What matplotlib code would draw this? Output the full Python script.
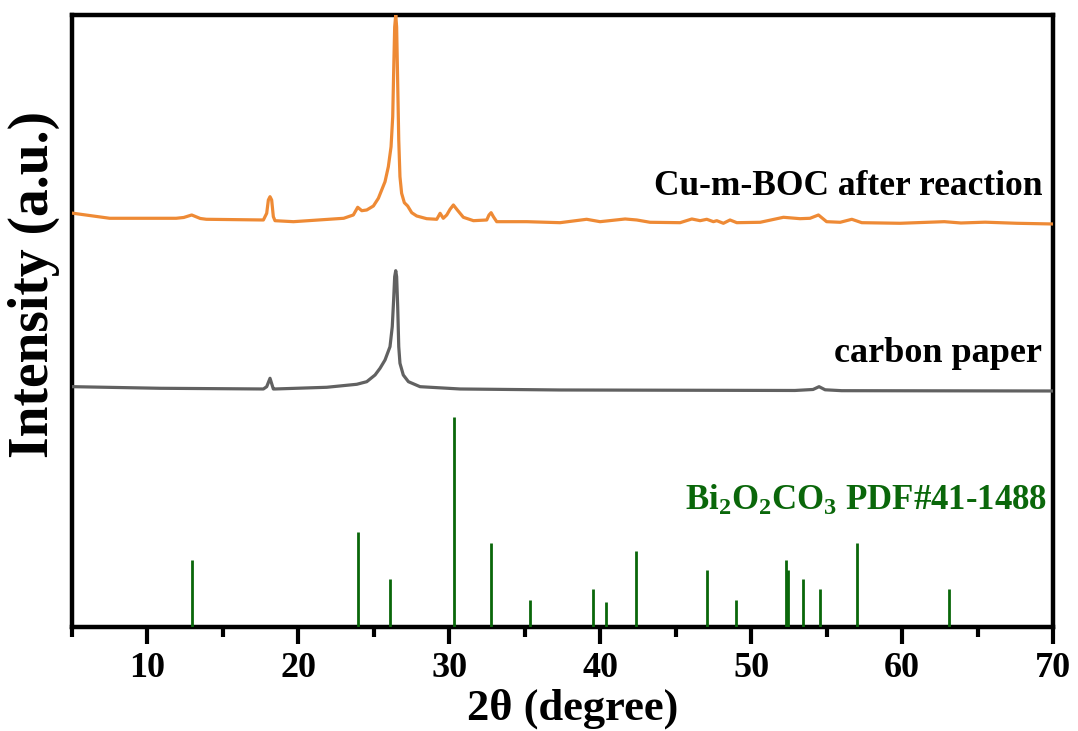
import matplotlib
matplotlib.use("Agg")
import matplotlib.pyplot as plt
from matplotlib.ticker import MultipleLocator

plt.rcParams['font.family'] = ['Liberation Serif', 'DejaVu Serif']
plt.rcParams['font.weight'] = 'bold'
plt.rcParams['mathtext.fontset'] = 'custom'
plt.rcParams['mathtext.rm'] = 'Liberation Serif:bold'
plt.rcParams['mathtext.bf'] = 'Liberation Serif:bold'
plt.rcParams['mathtext.it'] = 'Liberation Serif:bold:italic'

# ---------------- data (intensity in arbitrary units) ----------------
cu_theta = [5.09, 7.5, 11.9, 12.4, 12.93, 13.5, 13.9, 17.68, 17.9, 18.01, 18.12, 18.23,
            18.34, 18.45, 19.67, 23.0, 23.64, 23.93, 24.2, 24.53, 24.97, 25.3, 25.52,
            25.74, 25.96, 26.14, 26.25, 26.32, 26.38, 26.45, 26.51, 26.58, 26.65, 26.73,
            26.84, 27.02, 27.24, 27.51, 27.84, 28.5, 29.17, 29.39, 29.6, 29.83, 30.05,
            30.27, 30.53, 30.93, 31.6, 32.48, 32.63, 32.77, 32.92, 33.14, 35.13, 37.34,
            39.1, 39.99, 41.65, 42.42, 43.3, 45.29, 46.07, 46.62, 47.06, 47.5, 47.72,
            48.16, 48.6, 49.05, 50.6, 52.14, 53.24, 53.9, 54.46, 55.0, 55.9, 56.67,
            57.33, 59.87, 62.8, 63.9, 65.5, 67.6, 70.0]
cu_int = [413.7, 408.7, 408.7, 409.5, 412.0, 408.5, 407.7, 407.0, 413.7, 427.0, 430.3, 427.0,
          410.3, 406.3, 405.3, 408.7, 412.0, 419.7, 416.3, 417.0, 421.0, 428.7, 437.0,
          445.3, 460.3, 480.3, 510.3, 560.3, 600.0, 612.0, 600.0, 543.7, 487.0, 450.3,
          433.7, 424.3, 421.0, 414.3, 411.0, 408.3, 407.7, 413.7, 408.7, 412.0, 417.7,
          422.0, 417.0, 409.7, 406.3, 407.0, 412.0, 414.3, 410.3, 405.3, 405.3, 404.3,
          407.7, 405.3, 408.0, 407.0, 404.7, 404.3, 408.0, 406.3, 407.7, 405.3, 406.3,
          403.7, 407.0, 404.3, 404.7, 409.7, 408.3, 408.7, 412.0, 405.3, 404.7, 407.7,
          404.3, 403.7, 405.3, 404.0, 404.8, 403.7, 403.0]

cp_theta = [5.09, 10.83, 17.68, 17.9, 18.12, 18.34, 18.45, 21.88, 23.87, 24.53, 25.08,
            25.41, 25.74, 26.07, 26.22, 26.31, 26.38, 26.45, 26.51, 26.58, 26.65, 26.73,
            26.95, 27.29, 28.06, 30.71, 37.34, 52.9, 54.1, 54.5, 54.9, 56.0, 70.0]
cp_int = [240.3, 238.7, 238.0, 240.3, 248.7, 238.0, 238.0, 239.7, 242.7, 245.3, 252.0,
          258.7, 267.0, 280.3, 300.3, 327.0, 350.3, 356.3, 350.3, 320.3, 280.3, 263.7,
          252.0, 245.3, 240.3, 238.0, 237.0, 236.5, 237.5, 240.3, 237.2, 236.3, 236.0]

pdf_theta = [12.95, 23.93, 26.07, 30.29, 32.77, 35.35, 39.55, 40.4, 42.4, 47.06, 49.0,
             52.3, 52.45, 53.45, 54.57, 57.0, 63.1]
pdf_rel = [32, 45, 23, 100, 40, 13, 18, 12, 36, 27, 13, 32, 27, 23, 18, 40, 18]

labels = ['Cu-m-BOC after reaction', 'carbon paper',
          r'Bi$_2$O$_2$CO$_3$ PDF#41-1488']
xticks = [10, 20, 30, 40, 50, 60, 70]

# ---------------- figure ----------------
fig = plt.figure(figsize=(10.78, 7.31), dpi=100)
ax = fig.add_axes([0.0668, 0.1423, 0.91, 0.8372])

orange = '#EE8A35'
gray = '#616161'
green = '#0A670A'

ax.plot(cu_theta, cu_int, color=orange, lw=2.3, solid_joinstyle='round', zorder=3)
ax.plot(cp_theta, cp_int, color=gray, lw=2.3, solid_joinstyle='round', zorder=3)
stick_scale = 2.1
ax.vlines(pdf_theta, 0, [r * stick_scale for r in pdf_rel], color=green, lw=2.0, zorder=3)

ax.text(69.28, 432, labels[0], ha='right', va='baseline', fontsize=25.5,
        fontweight='bold', color='black')
ax.text(69.28, 265, labels[1], ha='right', va='baseline', fontsize=26,
        fontweight='bold', color='black')
ax.text(69.6, 117, labels[2], ha='right', va='baseline', fontsize=25,
        fontweight='bold', color=green)

ax.set_xlim(5, 70)
ax.set_ylim(0, 612)
ax.set_xticks(xticks)
ax.set_xticklabels([str(t) for t in xticks])
ax.xaxis.set_minor_locator(MultipleLocator(5))
ax.set_yticks([])
ax.tick_params(axis='x', which='major', direction='out', length=12, width=3,
               labelsize=26, pad=6)
ax.tick_params(axis='x', which='minor', direction='out', length=7, width=3)
for lab in ax.get_xticklabels():
    lab.set_fontweight('bold')
for sp in ax.spines.values():
    sp.set_linewidth(3.2)

ax.set_xlabel(r'2θ (degree)', fontsize=32, fontweight='bold')
ax.xaxis.set_label_coords(0.51, -0.101)
ax.set_ylabel('Intensity (a.u.)', fontsize=40, fontweight='bold')
ax.yaxis.set_label_coords(-0.012, 0.559)

fig.savefig('out.png', dpi=100)
